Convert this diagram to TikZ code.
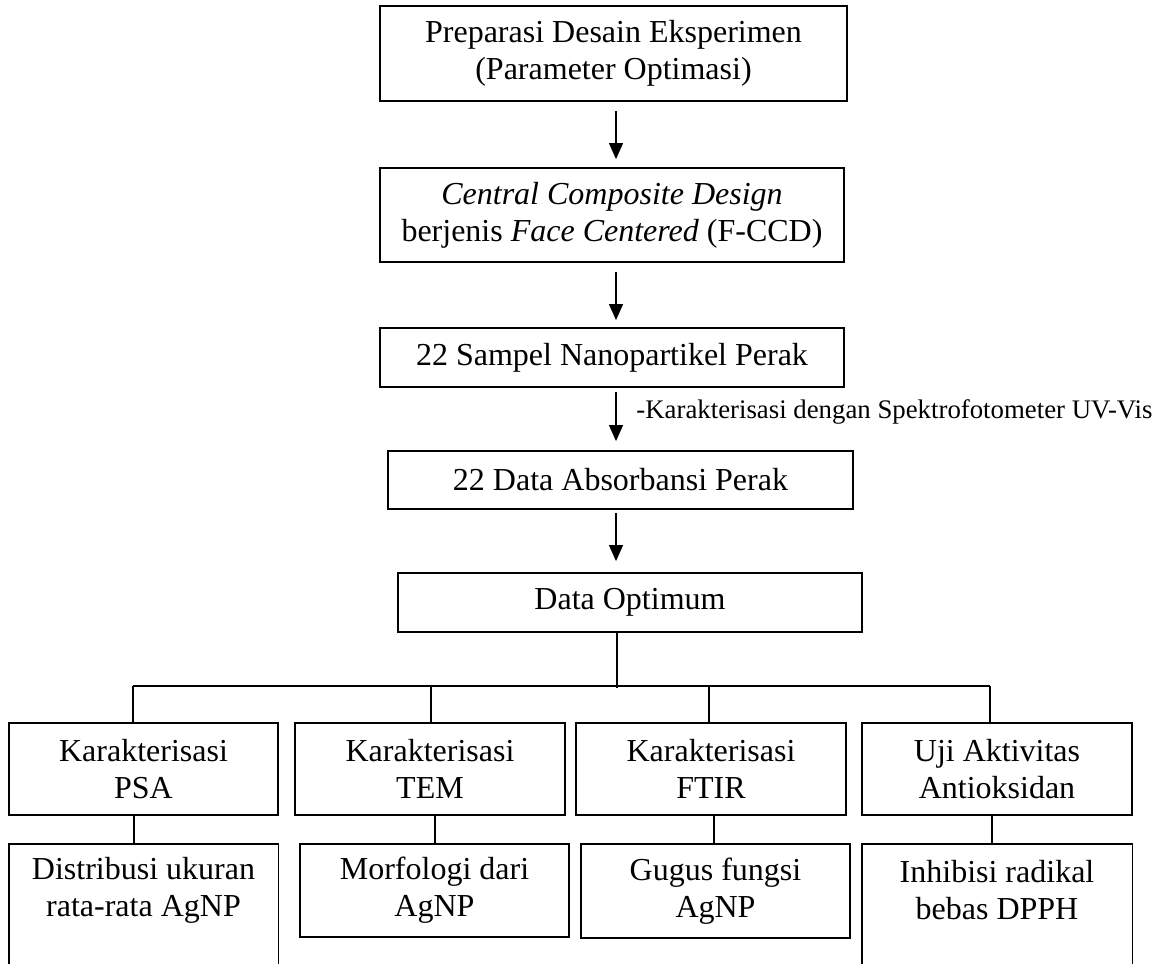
\documentclass[tikz,border=0pt]{standalone}
\usepackage{fontspec}
\setmainfont{Liberation Serif}
\usetikzlibrary{arrows.meta}
\newcommand{\boxfont}{\fontsize{16pt}{18.5pt}\selectfont}
\newcommand{\labfont}{\fontsize{13.4pt}{16pt}\selectfont}
\begin{document}
\begin{tikzpicture}[x=0.5pt,y=-0.5pt,
  box/.style={draw, line width=0.9pt, inner sep=0pt, align=center, font=\boxfont},
  openbox/.style={inner sep=0pt, align=center, font=\boxfont},
  conn/.style={line width=0.6pt},
  arr/.style={line width=0.6pt, -{Triangle[length=8pt,width=7pt]}}]
\useasboundingbox (0,0) rectangle (1166,963);
\clip (0,0) rectangle (1166,963);
\fill[white] (0,0) rectangle (1166,963);

% main column
\node[box, minimum width=233.5pt, minimum height=47.5pt] (b1) at (613.5,53.5)
  {Preparasi Desain Eksperimen\\(Parameter Optimasi)};
\node[box, minimum width=232pt, minimum height=47pt] (b2) at (612,215)
  {\textit{Central Composite Design}\\berjenis \textit{Face Centered} (F-CCD)};
\node[box, minimum width=232pt, minimum height=29.5pt] (b3) at (612,357.5)
  {22 Sampel Nanopartikel Perak};
\node[box, minimum width=232.5pt, minimum height=29pt] (b4) at (620.5,480)
  {22 Data Absorbansi Perak};
\node[box, minimum width=232pt, minimum height=29.5pt] (b5) at (630,602.5)
  {Data Optimum};

\coordinate (ax) at (616,0);
\draw[arr, shorten <=4.5pt, shorten >=4pt] (b1.south -| ax) -- (b2.north -| ax);
\draw[arr, shorten <=4.5pt, shorten >=3.5pt] (b2.south -| ax) -- (b3.north -| ax);
\draw[arr, shorten <=2pt, shorten >=4.5pt] (b3.south -| ax) -- (b4.north -| ax);
\draw[arr, shorten <=1.5pt, shorten >=5.5pt] (b4.south -| ax) -- (b5.north -| ax);

\node[anchor=west, inner sep=0pt, font=\labfont] (lab) at (636,412)
  {-Karakterisasi dengan Spektrofotometer UV-Vis};

% second row
\node[box, minimum width=134.5pt, minimum height=46pt] (psa) at (143.5,769)
  {Karakterisasi\\PSA};
\node[box, minimum width=135pt, minimum height=46pt] (tem) at (430,769)
  {Karakterisasi\\TEM};
\node[box, minimum width=135pt, minimum height=46pt] (ftir) at (711,769)
  {Karakterisasi\\FTIR};
\node[box, minimum width=135pt, minimum height=46pt] (anti) at (997,769)
  {Uji Aktivitas\\Antioksidan};

% bus
\coordinate (bus) at (617,686);
\coordinate (t1) at (133,686);
\coordinate (t2) at (431,686);
\coordinate (t3) at (709,686);
\coordinate (t4) at (990,686);
\draw[conn] (b5.south -| bus) -- ([yshift=-1pt]bus);
\draw[conn] (t1) -- (t4);
\draw[conn] (t1) -- (psa.north -| t1);
\draw[conn] (t2) -- (tem.north -| t2);
\draw[conn] (t3) -- (ftir.north -| t3);
\draw[conn] (t4) -- (anti.north -| t4);

% third row
\node[openbox, minimum width=134.5pt, minimum height=46.5pt] (dist) at (143.5,890.5)
  {Distribusi ukuran\\rata-rata AgNP};
\draw[line width=0.9pt] ([yshift=-40pt]dist.south west) -- (dist.north west)
  -- (dist.north east) -- ([yshift=-40pt]dist.south east);
\node[box, minimum width=134.5pt, minimum height=46.5pt] (morf) at (434.5,890.5)
  {Morfologi dari\\AgNP};
\node[box, minimum width=134.5pt, minimum height=47pt] (gug) at (715.5,891)
  {Gugus fungsi\\AgNP};
\node[openbox, minimum width=135pt, minimum height=46.5pt] (inh) at (997,890.5)
  {Inhibisi radikal\\bebas DPPH};
\draw[line width=0.9pt] ([yshift=-40pt]inh.south west) -- (inh.north west)
  -- (inh.north east) -- ([yshift=-40pt]inh.south east);

\coordinate (v1) at (134,0);
\coordinate (v2) at (435,0);
\coordinate (v3) at (714,0);
\coordinate (v4) at (992,0);
\draw[conn] (psa.south -| v1) -- (dist.north -| v1);
\draw[conn] (tem.south -| v2) -- (morf.north -| v2);
\draw[conn] (ftir.south -| v3) -- (gug.north -| v3);
\draw[conn] (anti.south -| v4) -- (inh.north -| v4);
\end{tikzpicture}
\end{document}
